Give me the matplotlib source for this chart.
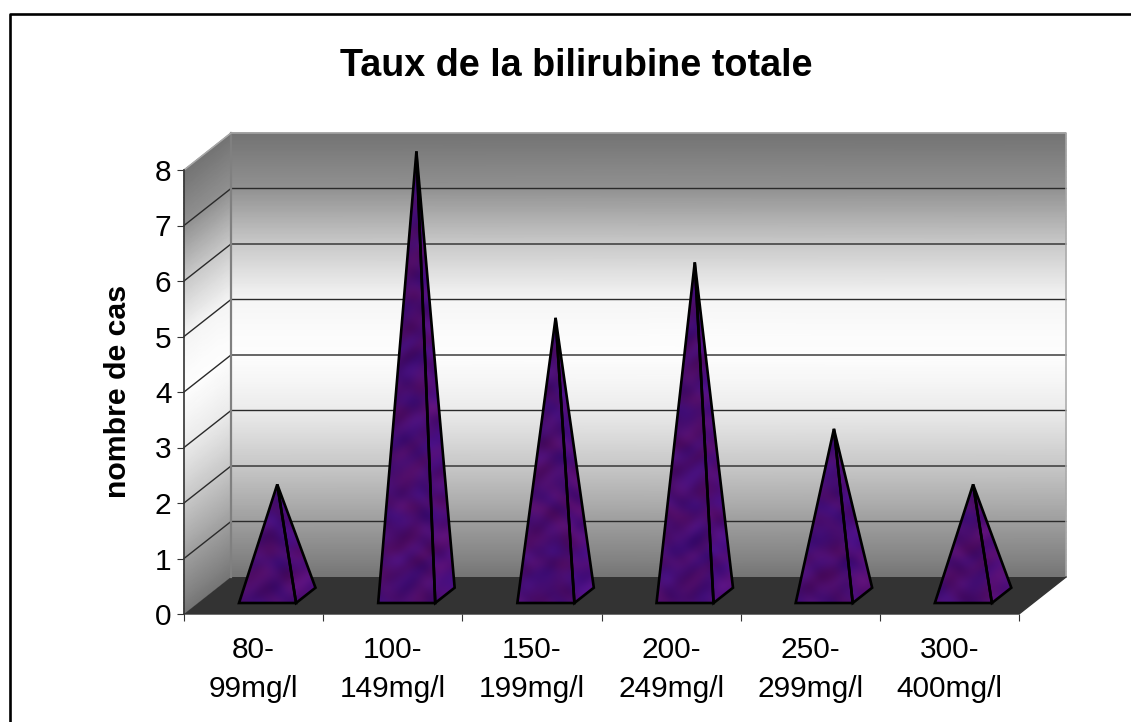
import numpy as np
import matplotlib
matplotlib.use('Agg')
from matplotlib import pyplot as plt
from matplotlib.lines import Line2D
from matplotlib.patches import Polygon

categories = ['80-\n99mg/l', '100-\n149mg/l', '150-\n199mg/l', '200-\n249mg/l', '250-\n299mg/l', '300-\n400mg/l']
counts = [2, 8, 5, 6, 3, 2]
yticks = [0, 1, 2, 3, 4, 5, 6, 7, 8]

plt.rcParams['font.family'] = ['Liberation Sans', 'DejaVu Sans']

W, H = 1131, 722
fig = plt.figure(figsize=(W / 100, H / 100), dpi=100)
ax = fig.add_axes([184 / W, 1 - 614 / H, 835 / W, 444 / H])
ax.set_xlim(0, len(categories))
ax.set_ylim(0, 8)

# depth of the fake 3d box, in data units
DX = 47 / (835 / 6)
DY = 37 / (444 / 8)


def depth(x, d, v):
    return (x + d * DX, v + d * DY)


# walls: grey to white to grey
vals = np.linspace(0, 8, 81)
shade = np.interp(vals, yticks, [0.46, 0.62, 0.78, 0.92, 0.995, 0.96, 0.79, 0.57, 0.45])
xx = np.column_stack([np.zeros_like(vals), np.full_like(vals, len(categories))]) + DX
yy = np.column_stack([vals, vals]) + DY
cc = np.column_stack([shade, shade])
ax.pcolormesh(xx, yy, cc, cmap='gray', vmin=0, vmax=1, shading='gouraud', clip_on=False, zorder=0)
xx = np.column_stack([np.zeros_like(vals), np.full_like(vals, DX)])
yy = np.column_stack([vals, vals + DY])
ax.pcolormesh(xx, yy, cc, cmap='gray', vmin=0, vmax=1, shading='gouraud', clip_on=False, zorder=0)

# floor
n = len(categories)
floor = [depth(0, 0, 0), depth(n, 0, 0), depth(n, 1, 0), depth(0, 1, 0)]
ax.add_patch(Polygon(floor, fc='#333333', ec='none', clip_on=False, zorder=1))

# grid lines
for v in yticks[1:-1]:
    a, b, c = depth(0, 0, v), depth(0, 1, v), depth(n, 1, v)
    ax.plot([a[0], b[0], c[0]], [a[1], b[1], c[1]], color='#2a2a2a', lw=1.0, clip_on=False, zorder=1)

# wall edges
a, b, c = depth(0, 1, 0), depth(0, 1, 8), depth(n, 1, 8)
ax.plot([a[0], b[0]], [a[1], b[1]], color='#808080', lw=1.6, clip_on=False, zorder=2)
d, e = depth(0, 0, 8), depth(n, 1, 0)
ax.plot([d[0], b[0], c[0], e[0]], [d[1], b[1], c[1], e[1]], color='#a8a8a8', lw=1.1, clip_on=False, zorder=2)
ax.plot([0, n, e[0]], [0, 0, e[1]], color='#333333', lw=1.0, clip_on=False, zorder=2)

# mottled purple, sines only
gx, gy = np.meshgrid(np.arange(0, 880), np.arange(0, 480))
m = (np.sin(gx / 5.3 + 2.1 * np.sin(gy / 9.1)) + np.sin(gy / 4.1 + 1.7 * np.sin(gx / 7.7))
     + np.sin((gx + gy * 0.6) / 11.0 + 2 * np.sin(gy / 13.0)) + np.sin((gx * 0.7 - gy) / 6.7)) / 4
r = np.sin(gx / 13.0 + 3 * np.sin(gy / 17.0)) * np.sin(gy / 11.0 + 2 * np.sin(gx / 15.0))
tex = np.zeros(gx.shape + (3,))
tex[..., 0] = 0.28 + 0.04 * m + 0.03 * r
tex[..., 1] = 0.05 + 0.02 * m
tex[..., 2] = 0.43 + 0.05 * m - 0.03 * r
extent = (0, n + DX, 0, 8 + DY)

# pyramids
HALF = 0.205
D1, D2 = 0.297, 0.71
for i, v in enumerate(counts):
    c = i + 0.5
    fl = depth(c - HALF, D1, 0)
    fr = depth(c + HALF, D1, 0)
    br = depth(c + HALF, D2, 0)
    top = depth(c, (D1 + D2) / 2, v)
    for pts, gain in (([fl, fr, top], 1.0), ([fr, br, top], 1.1)):
        im = ax.imshow(np.clip(tex * gain, 0, 1), extent=extent, origin='lower', aspect='auto', zorder=3)
        poly = Polygon(pts, fc='none', ec='black', lw=1.9, joinstyle='miter', clip_on=False, zorder=4)
        ax.add_patch(poly)
        im.set_clip_path(Polygon(pts, transform=ax.transData))

ax.set_xlim(0, n)
ax.set_ylim(0, 8)
ax.patch.set_visible(False)
for s in ax.spines.values():
    s.set_visible(False)
ax.plot([0, 0], [0, 8], color='#333333', lw=1.2, clip_on=False, zorder=2)

ax.set_yticks(yticks)
ax.tick_params(axis='y', length=5, width=0.8, color='#333333', labelsize=21.5, pad=4)
ax.set_xticks(np.arange(n + 1))
ax.set_xticklabels([])
ax.set_xticks(np.arange(n) + 0.5, categories, minor=True)
ax.tick_params(axis='x', which='major', length=5, width=0.8, color='#333333')
ax.tick_params(axis='x', which='minor', length=0, labelsize=21.5, pad=15.5)
for t in ax.get_xticklabels(minor=True):
    t.set_linespacing(1.5)

fig.text(576.5 / W, 1 - 66 / H, 'Taux de la bilirubine totale', fontsize=27.2, fontweight='bold', ha='center', va='center')
fig.text(118 / W, 1 - 391 / H, 'nombre de cas', fontsize=21.8, fontweight='bold', rotation=90, ha='center', va='center')

# chart frame, only top and left are inside the picture
fig.add_artist(Line2D([9.5 / W, 9.5 / W, 1], [0, 1 - 14 / H, 1 - 14 / H], color='black', lw=1.9))

fig.savefig('out.png', dpi=100)
